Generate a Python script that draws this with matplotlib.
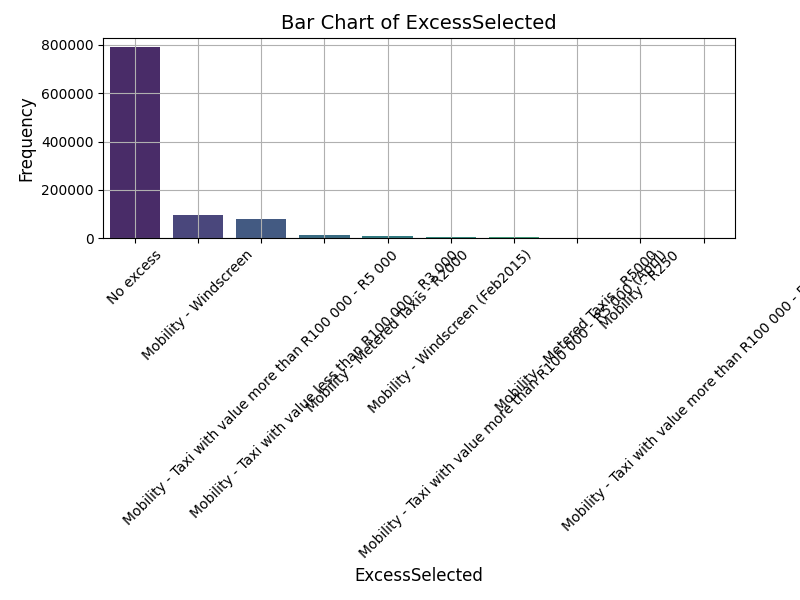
import matplotlib
matplotlib.use("Agg")
import matplotlib.pyplot as plt
import seaborn as sns

categories = ["No excess", "Mobility - Windscreen",
              "Mobility - Taxi with value more than R100 000 - R5 000",
              "Mobility - Taxi with value less than R100 000 - R3 000",
              "Mobility - Metered Taxis - R2000",
              "Mobility - Windscreen (Feb2015)",
              "Mobility - Taxi with value more than R100 000 - R5 000 (April)",
              "Mobility - Metered Taxis - R5000",
              "Mobility - R250",
              "Mobility - Taxi with value more than R100 000 - R10 000"]
counts = [790000, 98000, 78000, 15000, 8000, 6000, 3000, 2500, 1500, 300]

fig, ax = plt.subplots(figsize=(8, 6), dpi=100)
sns.barplot(x=categories, y=counts, hue=categories, palette="viridis", legend=False, ax=ax)
ax.set_title("Bar Chart of ExcessSelected", fontsize=14)
ax.set_xlabel("ExcessSelected", fontsize=12)
ax.set_ylabel("Frequency", fontsize=12)
ax.tick_params(axis="x", rotation=45)
ax.grid(True)
fig.subplots_adjust(left=0.129, right=0.919, top=0.937, bottom=0.603)
plt.savefig("out.png")
